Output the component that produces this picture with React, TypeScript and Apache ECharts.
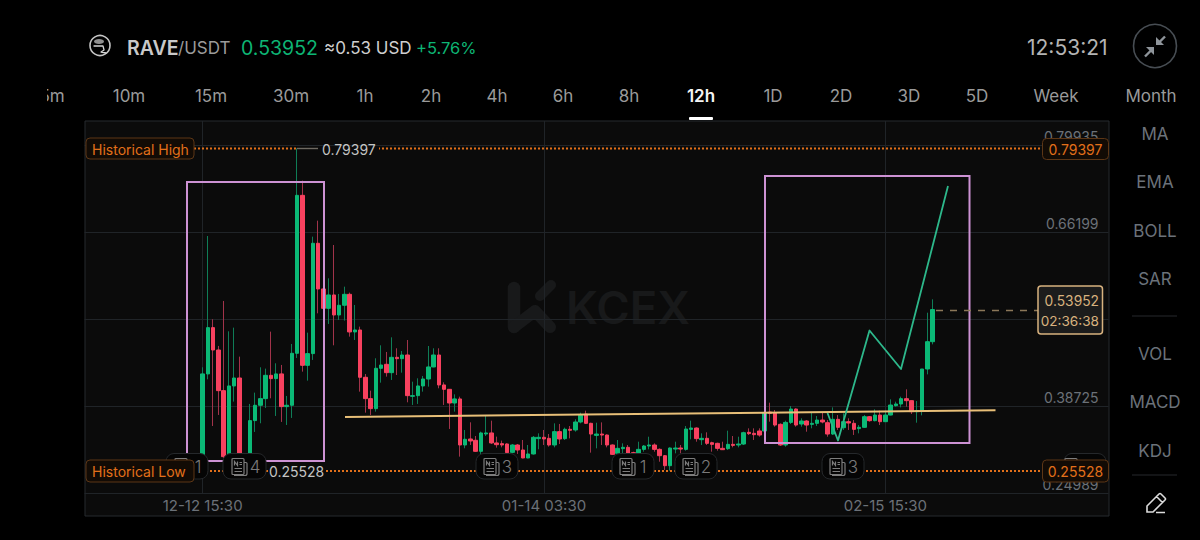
import React, { useEffect, useRef } from "react";
import * as echarts from "echarts";

// ---------- data ----------
const directions =
  "GGRRRGGRRG" + "GGGRGRGGGR" + "GGRRGRGGRG" + "RRRGGRGRGR" + "GGGGGRRRGR" + "GRRGGRRRRG" +
  "RRGGGRRGRG" + "RGGRRGRRRG" + "GRRGGGRRRG" + "GRGGRGRRRR" + "GRGGRRRGRR" + "RGGRGRGGRR" +
  "GRGRRGGRGR" + "GGGGRRGGGG";

const highs = [
  .4484, .6557, .5242, .4821, .5531, .5052, .5110, .4652, .3126, .3905,
  .4084, .4484, .4463, .5047, .4547, .4521, .4031, .4852, .79397, .7431,
  .5031, .6547, .6799, .5721, .5889, .6415, .5642, .5757, .5663, .5468,
  .5126, .4378, .4115, .4626, .4831, .4726, .4957, .4784, .4741, .4915,
  .4257, .4310, .4347, .4820, .4784, .4784, .4247, .4136, .4057, .4020,
  .3494, .3615, .3399, .3468, .3715, .3641, .3389, .3326, .3284, .3273,
  .3273, .3336, .3257, .3399, .3441, .3494, .3431, .3599, .3589, .3531,
  .3557, .3663, .3767, .3799, .3609, .3609, .3614, .3425, .3267, .3336,
  .3283, .3257, .3151, .3309, .3257, .3388, .3283, .3204, .3099, .3220,
  .3309, .3257, .3557, .3641, .3536, .3441, .3457, .3309, .3293, .3309,
  .3483, .3399, .3388, .3467, .3520, .3520, .3520, .3783, .3925, .3809,
  .3599, .3641, .3872, .3836, .3678, .3651, .3767, .3715, .3767, .3651,
  .3851, .3730, .3757, .3678, .3651, .3572, .3730, .3715, .3820, .3799,
  .3799, .3978, .3941, .4020, .4136, .3957, .3951, .4457, .5346, .5557,
];
const bodyTops = [
  .4379, .5110, .5110, .4757, .4115, .4189, .4315, .4315, .3100, .3642,
  .3884, .3989, .4357, .4357, .4379, .4379, .3884, .4705, .7199, .7199,
  .4700, .6442, .6442, .5721, .5626, .5626, .5463, .5636, .5636, .5073,
  .5073, .4326, .3989, .4468, .4520, .4531, .4641, .4641, .4678, .4678,
  .4036, .4189, .4299, .4489, .4678, .4678, .4205, .4136, .3984, .3984,
  .3347, .3352, .3331, .3447, .3447, .3447, .3289, .3278, .3273, .3257,
  .3257, .3178, .3115, .3378, .3378, .3378, .3362, .3468, .3468, .3505,
  .3505, .3620, .3725, .3746, .3599, .3430, .3430, .3414, .3257, .3204,
  .3220, .3220, .3136, .3188, .3241, .3257, .3257, .3188, .3088, .3209,
  .3209, .3209, .3509, .3525, .3525, .3362, .3362, .3293, .3283, .3204,
  .3267, .3267, .3272, .3451, .3457, .3441, .3478, .3767, .3778, .3767,
  .3583, .3614, .3825, .3825, .3636, .3636, .3599, .3651, .3651, .3609,
  .3662, .3662, .3625, .3625, .3599, .3536, .3704, .3704, .3730, .3730,
  .3730, .3888, .3904, .3988, .3988, .3957, .3799, .4457, .4888, .53952,
];
const bodyBottoms = [
  .3047, .4379, .4757, .4115, .3073, .3073, .4189, .3100, .3047, .3126,
  .3642, .3884, .3989, .4305, .4305, .3863, .3863, .3884, .4705, .4515,
  .4515, .4700, .5721, .5415, .5415, .5310, .5310, .5463, .5042, .5042,
  .4326, .3989, .3831, .3831, .4468, .4399, .4399, .4620, .4620, .4036,
  .4026, .4036, .4189, .4299, .4489, .4205, .4136, .3920, .3920, .3257,
  .3257, .3320, .3157, .3157, .3431, .3289, .3262, .3257, .3136, .3141,
  .3178, .3052, .3052, .3115, .3357, .3352, .3257, .3257, .3352, .3357,
  .3489, .3494, .3620, .3599, .3430, .3409, .3414, .3257, .3109, .3125,
  .3199, .3125, .3114, .3125, .3188, .3241, .3188, .3088, .2930, .2930,
  .3193, .3193, .3188, .3504, .3357, .3341, .3283, .3267, .3204, .3183,
  .3199, .3251, .3257, .3272, .3436, .3420, .3414, .3478, .3757, .3572,
  .3257, .3257, .3614, .3572, .3588, .3572, .3583, .3599, .3620, .3430,
  .3430, .3536, .3530, .3604, .3504, .3515, .3536, .3641, .3641, .3625,
  .3625, .3730, .3878, .3904, .3957, .3783, .3783, .3799, .4457, .4888,
];
const lows = [
  .3021, .4294, .3557, .3731, .3047, .3047, .3942, .3047, .3021, .3100,
  .3463, .3600, .3842, .3994, .3715, .3621, .3573, .3684, .4631, .4415,
  .4273, .4600, .5336, .5415, .5168, .4831, .5231, .5221, .4968, .4915,
  .4099, .3768, .3731, .3784, .4241, .4336, .4284, .4362, .4399, .3931,
  .3889, .3905, .4099, .4178, .4484, .4152, .3889, .3510, .3784, .3073,
  .3205, .3257, .3152, .3099, .3399, .3273, .3215, .3220, .3126, .3126,
  .3115, .3047, .3047, .3105, .3189, .3257, .3231, .3220, .3273, .3336,
  .3362, .3468, .3599, .3588, .3136, .3204, .3257, .3220, .3099, .3114,
  .3114, .3099, .3099, .3114, .3151, .3188, .3151, .2993, .2862, .2851,
  .3125, .3125, .3167, .3346, .3309, .3257, .3257, .3151, .3167, .3178,
  .3178, .3220, .3220, .3257, .3414, .3336, .3388, .3467, .3625, .3546,
  .3241, .3230, .3588, .3546, .3546, .3467, .3520, .3557, .3599, .3388,
  .3415, .3494, .3494, .3494, .3415, .3441, .3530, .3625, .3630, .3572,
  .3620, .3725, .3862, .3851, .3862, .3746, .3609, .3725, .4372, .4846,
];

const gridValues = [0.79935, 0.66199, 0.52462, 0.38725, 0.24989];
const priceLabels = [0.79935, 0.66199, 0.38725, 0.24989];
const timeLabels = ["12-12 15:30", "01-14 03:30", "02-15 15:30"];
const intervals = ["5m", "10m", "15m", "30m", "1h", "2h", "4h", "6h", "8h", "12h", "1D", "2D", "3D", "5D", "Week", "Month"];
const indicators = ["MA", "EMA", "BOLL", "SAR", "VOL", "MACD", "KDJ"];
const newsCounts = ["1", "4", "3", "1", "2", "3"];

// ---------- derived ----------
const LEAD = 22;
const TOTAL = 195;
const pad2 = (n: number) => String(n).padStart(2, "0");
const categories: string[] = Array.from({ length: TOTAL }, (_, i) => {
  const d = new Date(Date.UTC(2025, 11, 12, 15, 30) + (i - LEAD) * 12 * 3600 * 1000);
  return `${pad2(d.getUTCMonth() + 1)}-${pad2(d.getUTCDate())} ${pad2(d.getUTCHours())}:${pad2(d.getUTCMinutes())}`;
});
const isTimeTick = (idx: number) => timeLabels.includes(categories[idx]);
const empty = Array.from({ length: LEAD }, () => ["-", "-", "-", "-"] as any[]);
const openClose = (i: number) =>
  directions[i] === "G" ? [bodyBottoms[i], bodyTops[i]] : [bodyTops[i], bodyBottoms[i]];
const wickData = empty.concat(highs.map((h, i) => [...openClose(i), lows[i], h]));
const bodyData = empty.concat(highs.map((_, i) => [...openClose(i), bodyBottoms[i], bodyTops[i]]));

// ---------- icons ----------
echarts.graphic.registerShape(
  "newsIcon",
  echarts.graphic.extendPath(
    "M2 1 H12 Q13 1 13 2 V16 Q13 17 12 17 H2 Q1 17 1 16 V2 Q1 1 2 1 Z M13 5 H15 Q16 5 16 6 V16 Q16 18 14 18 H3 M3.5 8 V4 L6.5 8 V4 M8.5 5 H11 M8.5 7 H11 M3.5 11 H11 M3.5 14 H11",
    {}
  )
);
echarts.graphic.registerShape(
  "pencilIcon",
  echarts.graphic.extendPath("M1 20 L1 14 L13 2 Q14 1 15 2 L19 6 Q20 7 19 8 L7 20 Z M10.5 4.5 L16.5 10.5 M10 20.5 H19", {})
);

const FONT = "Inter";
const ORANGE = "#e2701a";
const TOP = 100;

function label(text: string, x: number, y: number, size: number, fill: string, align = "center", weight: any = 400, z = TOP) {
  return {
    type: "text",
    z,
    style: { text, x, y, fill, align, verticalAlign: "middle", fontFamily: FONT, fontSize: size, fontWeight: weight },
  };
}
function line(x1: number, y1: number, x2: number, y2: number, stroke: string, lineWidth = 1, lineDash?: number[], z = TOP) {
  return { type: "line", z, shape: { x1, y1, x2, y2 }, style: { stroke, lineWidth, lineDash } };
}
function box(x: number, y: number, width: number, height: number, fill: string, stroke: string, r = 0, z = TOP, lineWidth = 1) {
  return { type: "rect", z, shape: { x, y, width, height, r }, style: { fill, stroke, lineWidth } };
}
function poly(points: number[][], stroke: string, lineWidth: number, z = TOP, cap = "round") {
  return { type: "polyline", z, shape: { points }, style: { stroke, lineWidth, fill: "none", lineCap: cap, lineJoin: "round" } };
}
function badge(x: number, width: number, count: string | null, digitX: number) {
  const els: any[] = [box(x, 453.5, width, 25.5, "#050505", "#25282b", 8, TOP + 1)];
  els.push({
    type: "newsIcon", z: TOP + 2, x: digitX - 24, y: 457.5,
    style: { fill: "none", stroke: "#7d7d7d", lineWidth: 1.2 },
  });
  if (count) els.push(label(count, digitX, 466.5, 17, "#7a7a7a", "center", 300, TOP + 2));
  return els;
}

function buildGraphics() {
  const g: any[] = [];
  // panel and watermark under the series
  g.push(box(85, 121, 1024, 395, "#0b0b0b", "#262a2e", 0, -10));
  g.push(label("KCEX", 566, 307, 45.5, "#18191a", "left", 600, -5));
  g.push(poly([[514, 288], [514, 327]], "#18191a", 12.5, -5));
  g.push(poly([[514, 327], [535, 311], [550, 327]], "#18191a", 12, -5));
  g.push(poly([[551, 285], [540, 296]], "#18191a", 10, -5));

  // header
  g.push({ type: "circle", z: TOP, shape: { cx: 100, cy: 45.5, r: 10 }, style: { fill: "none", stroke: "#c4c4c4", lineWidth: 1.6 } });
  g.push({ type: "ellipse", z: TOP, shape: { cx: 99, cy: 41.5, rx: 5, ry: 2.5 }, style: { fill: "#8f8f8f" } });
  g.push(poly([[94, 46], [103, 46], [104, 50], [101, 52], [106, 53]], "#d4d4d4", 1.3));
  g.push(label("RAVE", 127, 47.5, 19.5, "#c9c9c9", "left", 600));
  g.push(label("/USDT", 178, 48, 17, "#9b9b9b", "left"));
  g.push(label("0.53952", 241, 47.5, 19.5, "#0db574", "left", 400));
  g.push(label("≈0.53 USD", 324, 48, 17, "#cfcfcf", "left"));
  g.push(label("+5.76%", 416, 47.5, 16.5, "#0db574", "left"));
  g.push(label("12:53:21", 1027, 47, 21, "#b4b4b4", "left"));
  g.push({ type: "circle", z: TOP, shape: { cx: 1155, cy: 46, r: 21.5 }, style: { fill: "none", stroke: "#474d53", lineWidth: 1.6 } });
  g.push(line(1165, 36.5, 1158, 43.5, "#8e949a", 2.4));
  g.push({ type: "polygon", z: TOP, shape: { points: [[1156, 37], [1156, 45], [1164, 45]] }, style: { fill: "#8e949a" } });
  g.push(line(1145, 56.5, 1152, 49.5, "#8e949a", 2.4));
  g.push({ type: "polygon", z: TOP, shape: { points: [[1154, 47], [1146, 47], [1154, 55]] }, style: { fill: "#8e949a" } });

  // interval row
  const navX = [52, 129, 211, 291, 365, 431, 497, 563, 629, 701, 773, 841, 909, 977, 1056, 1151];
  intervals.forEach((t, i) => {
    const active = t === "12h";
    g.push(label(t, navX[i], 95.5, 17, active ? "#f4f4f4" : "#9a9a9a", "center", active ? 600 : 400));
  });
  g.push(box(0, 84, 47, 22, "#000", "none", 0, TOP + 1));
  g.push(box(689, 117, 24, 3, "#ffffff", "none", 1));

  // right indicator column
  const indicatorY = [133.5, 182, 230.5, 279, 353.5, 402, 451];
  indicators.forEach((t, i) => g.push(label(t, 1155, indicatorY[i], 17, "#6b727a")));
  g.push(line(1132, 316, 1177, 316, "#26292c", 1));
  g.push(line(1132, 475, 1177, 475, "#26292c", 1));
  g.push({ type: "pencilIcon", z: TOP, x: 1146, y: 492, style: { fill: "none", stroke: "#dcdcdc", lineWidth: 1.6 } });

  // drawings on the chart
  g.push(box(187, 182, 137, 279, "none", "#cd92d4", 0, TOP, 2));
  g.push(box(765, 176, 204.5, 267, "none", "#cd92d4", 0, TOP, 2));
  g.push(line(345, 417, 995.5, 410.3, "#e8bf78", 2));
  g.push(poly([[827.5, 413], [838, 440.5], [869.5, 330.5], [901, 369], [948, 186]], "#2db88b", 1.8, TOP, "butt"));

  // last price
  g.push(line(936, 310.5, 1038, 310.5, "#8c7759", 1.4, [7, 7]));
  g.push(box(1038, 286, 64.5, 48, "#1c1c1c", "#d8b27f", 3, TOP + 3, 1.5));
  g.push(label("0.53952", 1099, 300.5, 13.8, "#d8b27f", "right", 400, TOP + 4));
  g.push(label("02:36:38", 1099, 321, 13.6, "#d8b27f", "right", 400, TOP + 4));

  // news badges
  g.push(...badge(166, 42, newsCounts[0], 198));
  g.push(...badge(223, 43, newsCounts[1], 255));
  g.push(...badge(476, 42, newsCounts[2], 507));
  g.push(...badge(612, 42, newsCounts[3], 643));
  g.push(...badge(675, 42, newsCounts[4], 706));
  g.push(...badge(822, 42, newsCounts[5], 853));
  g.push(...badge(1064, 42, null, 1088));

  // historical high / low
  g.push(line(194, 148.5, 1043, 148.5, ORANGE, 1.8, [2, 2]));
  g.push(line(194, 471, 1043, 471, ORANGE, 1.8, [2, 2]));
  g.push(box(297, 146, 82, 5, "#0b0b0b", "none", 0, TOP));
  g.push(box(268, 465, 58, 13, "#0b0b0b", "none", 0, TOP));
  g.push(line(297, 148.5, 318, 148.5, "#6f6a62", 1.4, undefined, TOP + 1));
  g.push(label("0.79397", 322, 149.5, 14, "#c4c4c4", "left", 400, TOP + 2));
  g.push(label("0.25528", 269, 471.5, 14, "#c4c4c4", "left", 400, TOP + 2));
  const tagFill = "#120b05";
  const tagStroke = "#5c3616";
  g.push(box(86, 138, 108, 21, tagFill, tagStroke, 4, TOP + 3));
  g.push(label("Historical High", 92, 149, 14, ORANGE, "left", 400, TOP + 4));
  g.push(box(86, 460, 108, 22, tagFill, tagStroke, 4, TOP + 3));
  g.push(label("Historical Low", 92, 471.5, 14, ORANGE, "left", 400, TOP + 4));
  g.push(box(1042.5, 138.5, 66, 21, tagFill, tagStroke, 4, TOP + 3));
  g.push(label("0.79397", 1075.5, 149.5, 14, ORANGE, "center", 400, TOP + 4));
  g.push(box(1042.5, 460, 66, 22, tagFill, tagStroke, 4, TOP + 3));
  g.push(label("0.25528", 1075.5, 471.5, 14, ORANGE, "center", 400, TOP + 4));
  return g;
}

export default function App() {
  const ref = useRef<HTMLDivElement>(null);
  useEffect(() => {
    document.body.style.margin = "0";
    document.body.style.background = "#000";
    const chart = echarts.init(ref.current!, undefined, { renderer: "svg" });
    chart.setOption({
      animation: false,
      backgroundColor: "#000",
      textStyle: { fontFamily: FONT },
      grid: { left: 84.5, top: 121, width: 1024, height: 372, containLabel: false },
      xAxis: {
        type: "category",
        data: categories,
        boundaryGap: true,
        axisLine: { show: false },
        axisTick: { show: false, alignWithLabel: true, interval: (i: number) => isTimeTick(i) },
        axisLabel: {
          interval: (i: number) => isTimeTick(i),
          color: "#6b7178",
          fontSize: 15,
          margin: 5,
          fontFamily: FONT,
          hideOverlap: false,
        },
        splitLine: {
          show: true,
          alignWithLabel: true,
          interval: (i: number) => isTimeTick(i),
          lineStyle: { color: "#202428", width: 1 },
        },
      },
      yAxis: {
        type: "value",
        position: "right",
        min: 0.24989,
        max: 0.83728,
        axisLine: { show: false },
        axisTick: { show: false, customValues: gridValues },
        axisLabel: {
          inside: true,
          customValues: priceLabels,
          formatter: (v: number) => v.toFixed(5),
          color: "#6b7178",
          fontSize: 14,
          margin: 10,
          padding: [0, 0, 2, 0],
          verticalAlign: "bottom",
          fontFamily: FONT,
        },
        splitLine: { show: true, lineStyle: { color: "#202428", width: 1 } },
      },
      tooltip: { show: false },
      graphic: { elements: buildGraphics() },
      series: [
        {
          type: "candlestick",
          name: "wick",
          data: wickData,
          barWidth: 1,
          z: 3,
          silent: true,
          itemStyle: { color: "#0f7d57", color0: "#a2334a", borderColor: "#0f7d57", borderColor0: "#a2334a", borderWidth: 1 },
        },
        {
          type: "candlestick",
          name: "body",
          data: bodyData,
          barWidth: 4,
          z: 4,
          silent: true,
          itemStyle: { color: "#0bb976", color0: "#f8415f", borderColor: "#0bb976", borderColor0: "#f8415f", borderWidth: 1 },
        },
      ],
    });
    return () => chart.dispose();
  }, []);
  return <div ref={ref} style={{ width: 1200, height: 540, background: "#000" }} />;
}
